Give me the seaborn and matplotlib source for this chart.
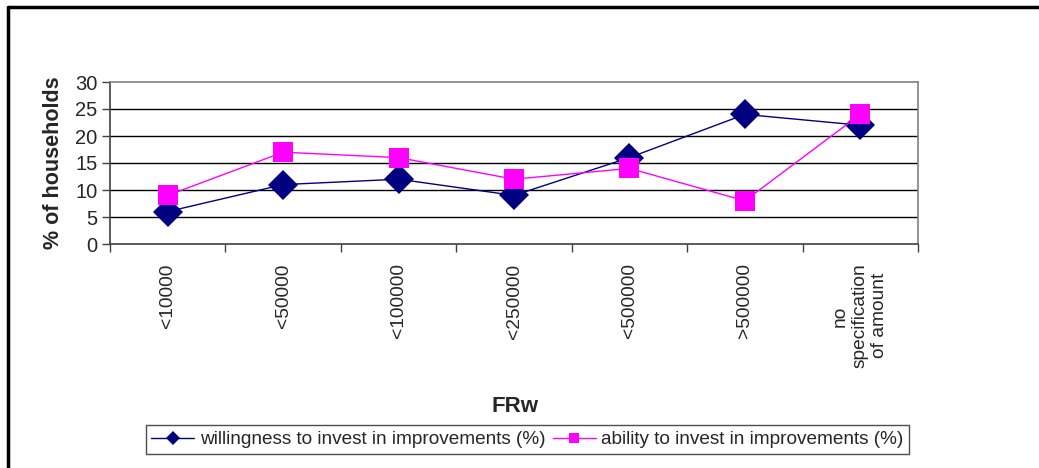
import matplotlib
matplotlib.use("Agg")
import matplotlib.pyplot as plt
from matplotlib.lines import Line2D
import seaborn as sns
import pandas as pd

categories = ["<10000", "<50000", "<100000", "<250000", "<500000", ">500000",
              "no\nspecification\nof amount"]
willingness = [6, 11, 12, 9, 16, 24, 22]
ability = [9, 17, 16, 12, 14, 8, 24]
yticks = [0, 5, 10, 15, 20, 25, 30]

sns.set_theme(style="white")
plt.rcParams['font.family'] = ['Liberation Sans', 'DejaVu Sans']

fig = plt.figure(figsize=(10.39, 4.68), dpi=100)
W, H = 1039, 468
ax = fig.add_axes([110 / W, 1 - 244 / H, (918 - 110) / W, (244 - 82) / H])

df = pd.DataFrame({"cat": categories, "w": willingness, "a": ability})
x = list(range(len(categories)))
sns.lineplot(x=x, y=df["w"], ax=ax, color="#000080", marker="D", markersize=15,
             markeredgewidth=0, linewidth=1, label="willingness to invest in improvements (%)")
sns.lineplot(x=x, y=df["a"], ax=ax, color="#FF00FF", marker="s", markersize=14,
             markeredgewidth=0, linewidth=1, label="ability to invest in improvements (%)")

ax.set_xlim(-0.5, len(categories) - 0.5)
ax.set_ylim(0, 30)
ax.set_yticks(yticks)
ax.set_yticklabels([str(v) for v in yticks], fontsize=14.5)
ax.set_xticks(x)
ax.set_xticklabels(categories, rotation=90, fontsize=13.8, va="top", ha="center",
                   multialignment="center")
ax.tick_params(axis="x", length=0, pad=14)
ax.set_xticks([i - 0.5 for i in range(len(categories) + 1)], minor=True)
ax.tick_params(axis="x", which="minor", length=6, width=1, color="#404040", direction="out", bottom=True)
ax.tick_params(axis="y", length=6, width=1, color="#404040", direction="out", left=True, pad=3)

for v in yticks[1:-1]:
    ax.axhline(v, color="black", linewidth=1, zorder=0)

ax.spines["left"].set_color("#404040")
ax.spines["bottom"].set_color("#404040")
ax.spines["top"].set_color("#808080")
ax.spines["right"].set_color("#808080")
for s in ax.spines.values():
    s.set_linewidth(1.2)
    s.set_visible(True)

ax.set_ylabel("% of households", fontsize=15.5, fontweight="bold", labelpad=8)
ax.set_xlabel("")
fig.text(515 / W, 1 - 406 / H, "FRw", fontsize=16, fontweight="bold", ha="center", va="center")

ax.get_legend().remove()
h, l = ax.get_legend_handles_labels()
leg = fig.legend(h, l, loc="center", bbox_to_anchor=(527.5 / W, 1 - 439.5 / H), ncol=2,
                 frameon=True, fancybox=False, edgecolor="#202020",
                 handlelength=2.25, handletextpad=0.3, columnspacing=0.4,
                 borderpad=0.3, borderaxespad=0, markerscale=0.5,
                 prop={"family": ["Liberation Sans", "DejaVu Sans"], "size": 13.7})
leg.get_frame().set_linewidth(1)

# outer frame
fig.add_artist(Line2D([8 / W, 8 / W], [0, 1 - 7 / H], color="black", linewidth=2.5, transform=fig.transFigure))
fig.add_artist(Line2D([8 / W, 1], [1 - 7 / H, 1 - 7 / H], color="black", linewidth=2.5, transform=fig.transFigure))

fig.savefig("out.png", dpi=100, facecolor="white")
